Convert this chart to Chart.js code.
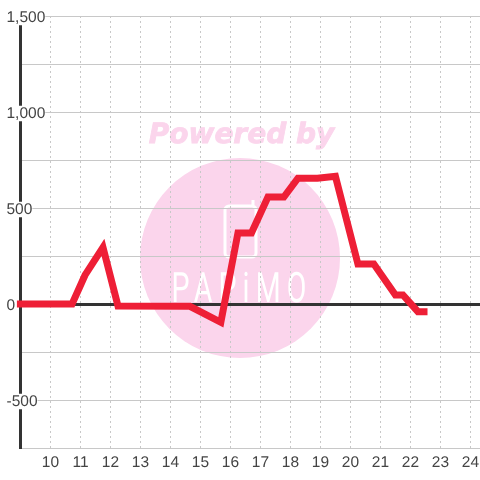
<!DOCTYPE html>
<html>
<head>
<meta charset="utf-8">
<style>
  html, body { margin: 0; padding: 0; background: #fff; }
  canvas { display: block; }
</style>
<script src="https://cdn.jsdelivr.net/npm/chart.js@4/dist/chart.umd.min.js"></script>
</head>
<body>
<canvas id="chart" width="480" height="480"></canvas>
<script>
const hours = [8.88, 10.72, 11.15, 11.75, 12.25, 14.65, 15.68, 16.25, 16.7, 17.25, 17.78, 18.25, 18.9, 19.5, 20.25, 20.78, 21.5, 21.75, 22.25, 22.57];
const amounts = [0, 0, 150, 295, -10, -12, -95, 370, 370, 557, 557, 655, 655, 665, 208, 208, 47, 47, -40, -40];
const yLabelValues = [-500, 0, 500, 1000, 1500];

// watermark sits under the grid
const watermark = {
  id: 'watermark',
  beforeDraw(chart) {
    const ctx = chart.ctx;
    ctx.textRendering = 'geometricPrecision';
    ctx.save();
    ctx.fillStyle = '#fbd5ec';
    ctx.strokeStyle = '#fbd5ec';
    ctx.beginPath();
    ctx.arc(240, 258, 100, 0, Math.PI * 2);
    ctx.fill();

    ctx.font = 'italic bold 28px "DejaVu Sans"';
    ctx.textAlign = 'center';
    ctx.textBaseline = 'middle';
    ctx.lineWidth = 0.8;
    ctx.fillText('Powered by', 241.5, 136);
    ctx.strokeText('Powered by', 241.5, 136);

    ctx.strokeStyle = '#fff';
    ctx.lineWidth = 3;
    ctx.beginPath();
    ctx.roundRect(225, 206, 31, 51, 4);
    ctx.moveTo(253, 206);
    ctx.lineTo(253, 200);
    ctx.stroke();

    ctx.fillStyle = '#fff';
    ctx.font = '42px Roboto';
    ctx.letterSpacing = '9px';
    ctx.translate(242, 291);
    ctx.scale(0.68, 1);
    ctx.fillText('PAPiMO', 0, 0);
    ctx.restore();
  },
};

new Chart(document.getElementById('chart'), {
  type: 'line',
  data: {
    datasets: [
      {
        data: hours.map((h, i) => ({ x: h, y: amounts[i] })),
        borderColor: '#ee1f36',
        borderWidth: 7,
        borderJoinStyle: 'miter',
        borderCapStyle: 'butt',
        pointRadius: 0,
        tension: 0,
        clip: false,
      },
    ],
  },
  plugins: [watermark],
  options: {
    responsive: false,
    animation: false,
    layout: { padding: { left: 20.5, top: 16, right: 0, bottom: 0 } },
    plugins: { legend: { display: false }, tooltip: { enabled: false } },
    scales: {
      x: {
        type: 'linear',
        min: 9,
        max: 24.32,
        afterBuildTicks: (axis) => {
          axis.ticks = axis.ticks.filter((t) => t.value >= 10 && t.value <= 24);
        },
        afterFit: (axis) => {
          axis.height = 32;
          axis.paddingRight = 0;
        },
        border: { display: false, dash: [2, 3] },
        grid: { color: '#c8c8c8', lineWidth: 1, drawTicks: false },
        ticks: {
          stepSize: 1,
          includeBounds: false,
          autoSkip: false,
          maxRotation: 0,
          padding: 5,
          color: '#444',
          font: { family: '"Liberation Sans"', size: 15.5 },
        },
      },
      y: {
        min: -750,
        max: 1500,
        afterFit: (axis) => {
          axis.width = 0;
        },
        border: { color: '#333', width: 3 },
        grid: {
          drawTicks: false,
          color: (c) => (c.tick.value === 0 ? '#333' : '#c8c8c8'),
          lineWidth: (c) => (c.tick.value === 0 ? 3 : 1),
        },
        ticks: {
          stepSize: 250,
          mirror: true,
          padding: -14,
          labelOffset: 1.5,
          color: '#444',
          font: { family: '"Liberation Sans"', size: 15.5, lineHeight: 1 },
          showLabelBackdrop: (c) => yLabelValues.includes(c.tick.value),
          backdropColor: '#fff',
          backdropPadding: 0,
          callback: (v) => (yLabelValues.includes(v) ? v.toLocaleString('en-US') : ''),
        },
      },
    },
  },
});
</script>
</body>
</html>
